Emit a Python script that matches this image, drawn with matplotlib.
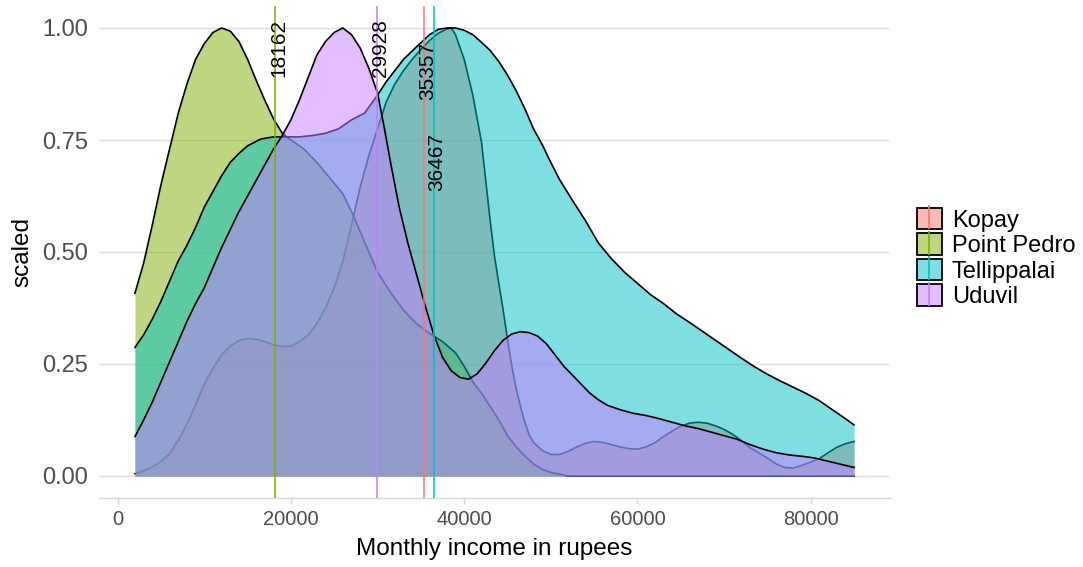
import matplotlib
matplotlib.use("Agg")
import matplotlib.pyplot as plt
from matplotlib.patches import Patch
from matplotlib.lines import Line2D
from matplotlib.colors import to_rgba

plt.rcParams['font.family'] = ['Liberation Sans', 'DejaVu Sans']

groups = ["Kopay", "Point Pedro", "Tellippalai", "Uduvil"]
colors = ["#F8766D", "#7CAE00", "#00BFC4", "#C77CFF"]
means = [35357, 18162, 36467, 29928]
label_y = [0.905, 0.955, 0.70, 0.955]

# scaled densities
kopay_x = [2000, 3000, 4000, 5000, 6000, 7000, 8000, 9000, 10000, 11000, 12000, 13000,
           14000, 15000, 16000, 17000, 18000, 19000, 20000, 21000, 22000, 23000, 24000,
           25000, 26000, 27000, 28000, 29000, 30000, 31000, 32000, 33000, 34000, 35000,
           36000, 37000, 38000, 38500, 39000, 40000, 41000, 42000, 43000, 43500, 44000,
           44500, 45000, 45500, 46000, 46500, 47000, 47500, 48000, 49000, 50000, 51000,
           52000, 53000, 54000, 55000, 56000, 57000, 58000, 59000, 60000, 61000, 62000,
           63000, 64000, 65000, 66000, 67000, 68000, 69000, 70000, 71000, 72000, 73000,
           74000, 75000, 76000, 77000, 78000, 79000, 80000, 81000, 82000, 83000, 84000, 85000]
kopay_y = [0.005, 0.012, 0.02, 0.032, 0.05, 0.08, 0.115, 0.16, 0.205, 0.24, 0.27, 0.29,
           0.302, 0.307, 0.305, 0.30, 0.293, 0.289, 0.29, 0.30, 0.315, 0.34, 0.375,
           0.42, 0.48, 0.56, 0.645, 0.715, 0.775, 0.835, 0.875, 0.905, 0.93, 0.952,
           0.972, 0.988, 0.998, 1.0, 0.985, 0.93, 0.85, 0.745, 0.57, 0.49, 0.43,
           0.37, 0.305, 0.245, 0.195, 0.155, 0.12, 0.092, 0.075, 0.057, 0.048, 0.048,
           0.055, 0.065, 0.073, 0.077, 0.075, 0.07, 0.065, 0.061, 0.06, 0.065, 0.074,
           0.088, 0.1, 0.111, 0.118, 0.12, 0.118, 0.112, 0.104, 0.093, 0.079, 0.063,
           0.052, 0.04, 0.027, 0.019, 0.018, 0.024, 0.031, 0.039, 0.052, 0.064, 0.072, 0.077]

pedro_x = [2000, 3000, 4000, 5000, 6000, 7000, 8000, 9000, 10000, 11000, 12000, 13000,
           14000, 15000, 16000, 17000, 18000, 19000, 20000, 21500, 23000, 24500, 26000,
           27000, 28000, 29000, 30000, 31500, 33000, 34500, 36000, 37500, 39000, 40000,
           41000, 42000, 43000, 44000, 45000, 46000, 47000, 48000, 49000, 50000, 51000,
           52000, 85000]
pedro_y = [0.408, 0.475, 0.56, 0.65, 0.73, 0.81, 0.875, 0.93, 0.965, 0.99, 1.0, 0.993,
           0.97, 0.93, 0.883, 0.838, 0.797, 0.765, 0.75, 0.73, 0.70, 0.665, 0.63,
           0.59, 0.545, 0.50, 0.455, 0.41, 0.37, 0.34, 0.318, 0.30, 0.275, 0.245,
           0.21, 0.185, 0.155, 0.125, 0.09, 0.065, 0.045, 0.027, 0.015, 0.008, 0.004,
           0.0, 0.0]

tell_x = [2000, 3000, 4000, 5000, 6000, 7000, 8000, 9000, 10000, 11000, 12000, 13000,
          14000, 15000, 16500, 18000, 19500, 21000, 22500, 24000, 25500, 27000, 28500,
          30000, 31000, 32000, 33000, 34500, 36000, 37000, 38000, 39000, 40000, 41000,
          42000, 43000, 44000, 45000, 46000, 47000, 48000, 49000, 50000, 51000, 52500,
          54000, 55500, 57000, 58500, 60000, 61500, 63000, 64500, 66000, 67500, 69000,
          70500, 72000, 73500, 75000, 76500, 78000, 79500, 81000, 82500, 84000, 85000]
tell_y = [0.287, 0.315, 0.35, 0.39, 0.435, 0.48, 0.515, 0.555, 0.60, 0.635, 0.67, 0.70,
          0.72, 0.737, 0.752, 0.757, 0.757, 0.757, 0.76, 0.765, 0.775, 0.795, 0.81,
          0.85, 0.88, 0.905, 0.93, 0.958, 0.985, 0.997, 1.0, 1.0, 0.995, 0.985,
          0.968, 0.95, 0.925, 0.895, 0.86, 0.82, 0.775, 0.74, 0.70, 0.662, 0.615,
          0.57, 0.52, 0.485, 0.455, 0.43, 0.405, 0.385, 0.362, 0.343, 0.323, 0.303,
          0.283, 0.263, 0.244, 0.227, 0.212, 0.198, 0.184, 0.168, 0.148, 0.128, 0.114]

uduvil_x = [2000, 3000, 4000, 5000, 6000, 7000, 8000, 9000, 10000, 11000, 12000, 13000,
            14000, 15000, 16000, 17000, 18000, 19000, 20000, 21000, 22000, 23000, 24000,
            25000, 26000, 27000, 28000, 29000, 30000, 30800, 31500, 32500, 33500, 34500,
            35500, 36500, 37500, 38500, 39500, 40500, 41500, 42500, 43500, 44500, 45500,
            46500, 47500, 48500, 49500, 50500, 51500, 52500, 53500, 54500, 55500, 56500,
            58000, 59500, 61000, 62500, 64000, 65500, 67000, 68500, 70000, 71500, 73000,
            74500, 76000, 77500, 79000, 80500, 82000, 83500, 85000]
uduvil_y = [0.088, 0.125, 0.165, 0.21, 0.255, 0.30, 0.345, 0.385, 0.42, 0.465, 0.51, 0.55,
            0.59, 0.625, 0.66, 0.695, 0.73, 0.76, 0.795, 0.84, 0.89, 0.94, 0.97,
            0.99, 1.0, 0.985, 0.955, 0.91, 0.855, 0.775, 0.70, 0.60, 0.52, 0.45,
            0.38, 0.315, 0.265, 0.235, 0.22, 0.216, 0.228, 0.252, 0.28, 0.303, 0.317,
            0.322, 0.32, 0.312, 0.295, 0.27, 0.245, 0.225, 0.205, 0.185, 0.17, 0.158,
            0.148, 0.14, 0.135, 0.128, 0.12, 0.112, 0.106, 0.098, 0.09, 0.082, 0.07,
            0.06, 0.052, 0.047, 0.044, 0.04, 0.033, 0.026, 0.019]

series = [(kopay_x, kopay_y), (pedro_x, pedro_y), (tell_x, tell_y), (uduvil_x, uduvil_y)]

fig = plt.figure(figsize=(10.83, 5.67), dpi=100)
ax = fig.add_axes([99 / 1083, 1 - 498.4 / 567, 791 / 1083, 492.8 / 567])

for i, (xs, ys) in enumerate(series):
    ax.fill_between(xs, 0, ys, color=colors[i], alpha=0.5, linewidth=0, zorder=2 + 2 * i)
    ax.plot(xs, ys, color="black", lw=1.2, zorder=3 + 2 * i, solid_joinstyle="round")

for i in range(4):
    ax.axvline(means[i], color=colors[i], lw=1.1, zorder=20)
    ax.annotate(str(means[i]), xy=(means[i], label_y[i]), xytext=(2.5, 0),
                textcoords="offset points", rotation=90, ha="center", va="center",
                fontsize=15, color="black", zorder=21)

ax.set_xlim(-2150, 89150)
ax.set_ylim(-0.05, 1.05)
ax.set_yticks([0, 0.25, 0.5, 0.75, 1.0])
ax.set_yticklabels(["0.00", "0.25", "0.50", "0.75", "1.00"])
ax.set_xticks([0, 20000, 40000, 60000, 80000])
ax.set_xticklabels(["0", "20000", "40000", "60000", "80000"])
ax.grid(axis="y", color="#DEDEDE", lw=1.0, zorder=0)
ax.set_axisbelow(True)
for s in ["top", "right", "left"]:
    ax.spines[s].set_visible(False)
ax.spines["bottom"].set_color("#D6D6D6")
ax.spines["bottom"].set_linewidth(1.0)
ax.tick_params(axis="x", colors="#D6D6D6", length=4, width=1.0, pad=4,
               labelcolor="#4D4D4D", labelsize=14.5)
ax.tick_params(axis="y", length=0, pad=8, labelcolor="#4D4D4D", labelsize=17)

fig.text(494 / 1083, 1 - 549 / 567, "Monthly income in rupees", ha="center", va="center",
         fontsize=17.5, color="black")
fig.text(22 / 1083, 1 - 252 / 567, "scaled", ha="center", va="center", rotation=90,
         fontsize=17.5, color="black")

handles = []
for c in colors:
    p = Patch(facecolor=to_rgba(c, 0.5), edgecolor="black", linewidth=1.3)
    l = Line2D([], [], color=c, marker="|", markersize=17, markeredgewidth=1.2, linestyle="None")
    handles.append((p, l))
fig.legend(handles, groups, loc="center left", bbox_to_anchor=(917 / 1083, 1 - 258 / 567),
           frameon=False, fontsize=17, handlelength=1.05, handleheight=1.0,
           handletextpad=0.42, labelspacing=0.08, borderpad=0, borderaxespad=0)

fig.savefig("out.png", dpi=100)
